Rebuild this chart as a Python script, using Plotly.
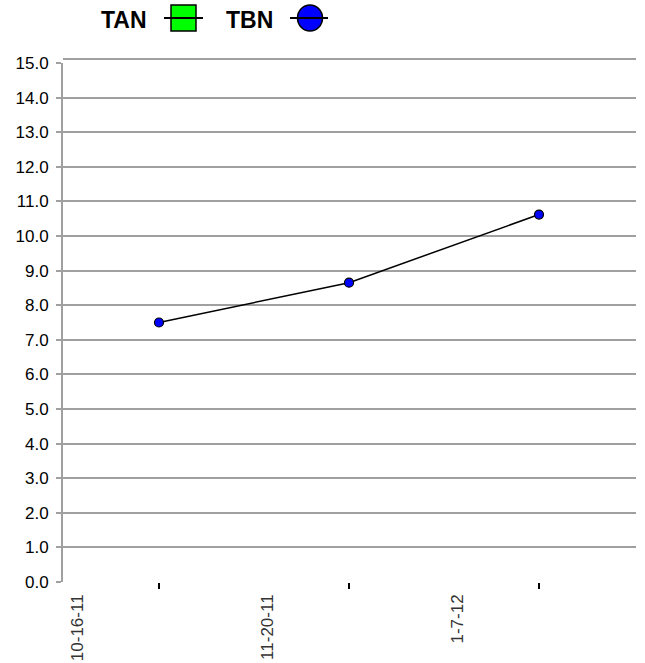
import plotly.graph_objects as go

date_labels = ["10-16-11", "11-20-11", "1-7-12"]
tbn_values = [7.5, 8.65, 10.62]
tan_values = []
y_ticks = [float(v) for v in range(0, 16)]
legend_names = ["TAN", "TBN"]

label_pos = list(range(len(date_labels)))
point_pos = [i + 0.5 for i in range(len(tbn_values))]

W, H = 645, 663
ML, MR, MT, MB = 63, 9, 63, 81
PW, PH = W - ML - MR, H - MT - MB


def px(xp):
    return (xp - ML) / PW


def py(yp):
    return (H - MB - yp) / PH


fig = go.Figure()

fig.add_trace(go.Scatter(
    x=[None] if not tan_values else point_pos, y=tan_values or [None],
    name="TAN", mode="lines+markers", showlegend=False,
    line=dict(color="black", width=1.5),
    marker=dict(symbol="square", size=9, color="#00ff00", line=dict(color="black", width=1)),
))
fig.add_trace(go.Scatter(
    x=point_pos, y=tbn_values, name="TBN", mode="lines+markers", showlegend=False,
    line=dict(color="black", width=1.5),
    marker=dict(symbol="circle", size=9, color="#0000ff", line=dict(color="black", width=1.2)),
))

shapes = []
annotations = []
# legend drawn at top: text then symbol
leg = [
    dict(name=legend_names[0], tx=124, cx=183.5, lx0=164, lx1=203, kind="rect", color="#00ff00"),
    dict(name=legend_names[1], tx=249, cx=310, lx0=290, lx1=328, kind="circle", color="#0000ff"),
]
cy = 18
for item in leg:
    annotations.append(dict(
        text=f"<b>{item['name']}</b>", x=px(item["tx"]), y=py(cy + 1.5), xref="paper", yref="paper",
        xanchor="center", yanchor="middle", showarrow=False,
        font=dict(size=23, family="Liberation Sans, Arial", color="black"),
    ))
    shapes.append(dict(
        type=item["kind"], xref="paper", yref="paper",
        xsizemode="pixel", ysizemode="pixel",
        xanchor=px(item["cx"]), yanchor=py(cy),
        x0=-12.5, x1=12.5, y0=-13, y1=13,
        fillcolor=item["color"], line=dict(color="black", width=1.5),
    ))
    shapes.append(dict(
        type="line", xref="paper", yref="paper",
        x0=px(item["lx0"]), x1=px(item["lx1"]), y0=py(cy), y1=py(cy),
        line=dict(color="black", width=2),
    ))

# top border line just above the 15.0 gridline
shapes.append(dict(
    type="line", xref="paper", yref="paper", x0=0, x1=1, y0=py(59), y1=py(59),
    line=dict(color="#a0a0a0", width=2),
))

fig.update_layout(
    width=W, height=H,
    margin=dict(l=ML, r=MR, t=MT, b=MB, autoexpand=False),
    paper_bgcolor="white", plot_bgcolor="white",
    font=dict(family="Liberation Sans, Arial", color="black"),
    showlegend=False,
    shapes=shapes, annotations=annotations,
    xaxis=dict(
        range=[(ML - 64) / 190, (W - MR - 64) / 190],
        tickmode="array", tickvals=label_pos, ticktext=date_labels,
        tickangle=-90, ticks="", showgrid=False, zeroline=False, showline=False,
        ticklabelshift=13, ticklabelstandoff=8,
        tickfont=dict(size=17, color="#333333"),
        minor=dict(tick0=0.5, dtick=1, ticks="outside", ticklen=6, tickwidth=2,
                   tickcolor="black", showgrid=False),
    ),
    yaxis=dict(
        range=[0, 15],
        tickmode="array", tickvals=y_ticks, ticktext=[f"{v:.1f}" for v in y_ticks],
        showgrid=True, gridcolor="#a0a0a0", gridwidth=2,
        zeroline=False, showline=True, linecolor="#a0a0a0", linewidth=2,
        ticks="outside", ticklen=5, tickcolor="#a0a0a0", tickwidth=2,
        ticklabelstandoff=4,
        tickfont=dict(size=17, color="black"),
    ),
)

fig.write_html(
    "out.html",
    config={"displayModeBar": False},
    post_script="document.body.style.margin='0';document.body.style.padding='0';",
)
